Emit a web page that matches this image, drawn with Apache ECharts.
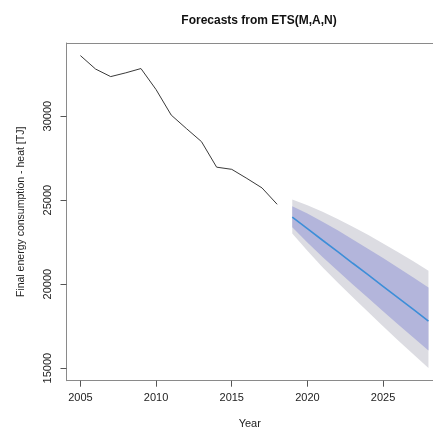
<!DOCTYPE html>
<html>
<head>
<meta charset="utf-8">
<script src="https://cdn.jsdelivr.net/npm/echarts@6/dist/echarts.min.js"></script>
<style>
html,body{margin:0;padding:0;background:#fff;}
#chart{width:433px;height:435px;}
</style>
</head>
<body>
<div id="chart"></div>
<script>
// Historical data
var histYears = [2005,2006,2007,2008,2009,2010,2011,2012,2013,2014,2015,2016,2017,2018];
var histValues = [33600,32800,32350,32575,32830,31575,30060,29260,28480,26960,26830,26290,25725,24750];

// Forecast
var fcYears = [2019,2020,2021,2022,2023,2024,2025,2026,2027,2028];
var fcMean = [23990,23300,22610,21930,21240,20560,19870,19180,18490,17800];
var fcLo80 = [23390,22480,21620,20800,19980,19180,18380,17590,16820,16050];
var fcHi80 = [24640,24200,23710,23200,22660,22110,21550,20970,20390,19800];
var fcLo95 = [23010,21980,21010,20100,19210,18350,17490,16650,15820,15010];
var fcHi95 = [25030,24700,24310,23880,23410,22930,22420,21900,21360,20800];

var xTicks = [2005,2010,2015,2020,2025];
var yTicks = [15000,20000,25000,30000];

function pairs(xs, ys){ return xs.map(function(x,i){ return [x, ys[i]]; }); }

function bandRenderer(lo, hi, color){
  return function(params, api){
    if (params.dataIndex !== 0) return null;
    var pts = [];
    for (var i = 0; i < fcYears.length; i++) pts.push(api.coord([fcYears[i], hi[i]]));
    for (var j = fcYears.length - 1; j >= 0; j--) pts.push(api.coord([fcYears[j], lo[j]]));
    return {type:'polygon', shape:{points:pts}, style:{fill:color, stroke:null}, silent:true};
  };
}

var font = 'Liberation Sans, Arial, sans-serif';
var axisCol = '#8a8a8a';
var chart = echarts.init(document.getElementById('chart'), null, {renderer:'canvas'});
chart.setOption({
  animation:false,
  backgroundColor:'#fff',
  title:{
    text:'Forecasts from ETS(M,A,N)',
    left:254, top:10, textAlign:'center',
    textStyle:{fontFamily:font,fontSize:12,fontWeight:'bold',color:'#111'}
  },
  grid:{left:66.5, top:43, right:0, bottom:54.3, show:false},
  xAxis:[{
    type:'value', min:2004.08, max:2028.30, position:'bottom',
    name:'Year', nameLocation:'middle', nameGap:38,
    nameTextStyle:{fontFamily:font,fontSize:11,color:'#222'},
    axisLine:{show:true, onZero:false, lineStyle:{color:axisCol, width:1}},
    splitLine:{show:false},
    axisTick:{show:true, length:6, lineStyle:{color:'#555'}, customValues:xTicks},
    axisLabel:{fontFamily:font,fontSize:11,color:'#222',margin:12, customValues:xTicks, formatter:function(v){return String(v);}}
  },{
    type:'value', min:2004.08, max:2028.30, position:'top',
    axisLine:{show:true, onZero:false, lineStyle:{color:axisCol, width:1}},
    splitLine:{show:false}, axisTick:{show:false}, axisLabel:{show:false}
  }],
  yAxis:{
    type:'value', min:14250, max:34350,
    name:'Final energy consumption - heat [TJ]', nameLocation:'middle', nameGap:40,
    nameTextStyle:{fontFamily:font,fontSize:10.5,color:'#222'},
    axisLine:{show:true, onZero:false, lineStyle:{color:axisCol, width:1}},
    splitLine:{show:false},
    axisTick:{show:true, length:6, lineStyle:{color:'#555'}, customValues:yTicks},
    axisLabel:{fontFamily:font,fontSize:11,color:'#222',margin:13,rotate:90, customValues:yTicks, formatter:function(v){return String(v);}}
  },
  series:[
    {type:'custom', data:pairs(fcYears, fcHi95), renderItem:bandRenderer(fcLo95, fcHi95, '#dcdce2'), silent:true, z:1},
    {type:'custom', data:pairs(fcYears, fcHi80), renderItem:bandRenderer(fcLo80, fcHi80, '#b3b5db'), silent:true, z:2},
    {type:'line', data:pairs(fcYears, fcMean), symbol:'none', lineStyle:{color:'#3d8ed8', width:1.6}, z:3},
    {type:'line', data:pairs(histYears, histValues), symbol:'none', lineStyle:{color:'#3a3a3a', width:1}, z:3}
  ]
});
</script>
</body>
</html>
